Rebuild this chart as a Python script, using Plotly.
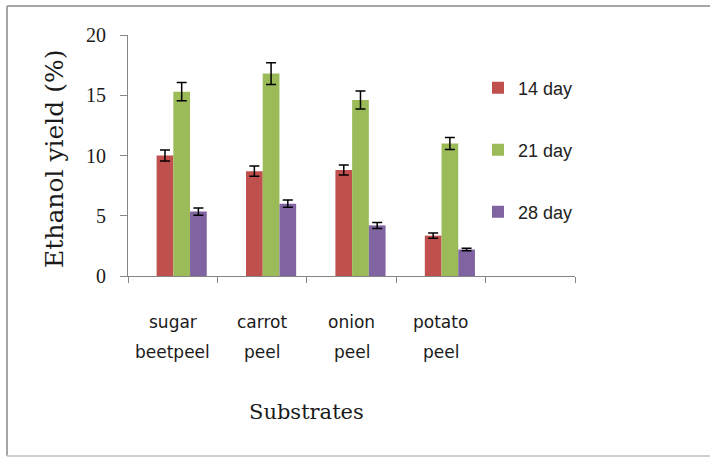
import plotly.graph_objects as go

# ---- data ----
categories_line1 = ["sugar", "carrot", "onion", "potato"]
categories_line2 = ["beetpeel", "peel", "peel", "peel"]
series_names = ["14 day", "21 day", "28 day"]
day14 = [10.0, 8.7, 8.8, 3.35]
day14_err = [0.45, 0.42, 0.42, 0.22]
day21 = [15.3, 16.8, 14.6, 11.0]
day21_err = [0.75, 0.9, 0.75, 0.5]
day28 = [5.35, 6.0, 4.2, 2.2]
day28_err = [0.3, 0.3, 0.25, 0.1]
y_ticks = [0, 5, 10, 15, 20]

colors = ["#C0504D", "#9BBB59", "#8064A2"]
values = [day14, day21, day28]
errors = [day14_err, day21_err, day28_err]
x_idx = list(range(len(categories_line1)))

W, H = 710, 457
L, R, T, B = 128, 135, 35, 181
plot_w = W - L - R
plot_h = H - T - B

bar_w = 0.187
offsets = [-0.18, 0.007, 0.194]
legend_names = ["legend", "legend2", "legend3"]

fig = go.Figure()
for i in range(3):
    fig.add_trace(go.Bar(
        x=x_idx, y=values[i], name=series_names[i],
        marker=dict(color=colors[i], line=dict(width=0)),
        width=bar_w, offset=offsets[i],
        error_y=dict(type="data", array=errors[i], visible=True,
                     color="black", thickness=1.5, width=5),
        legend=legend_names[i],
    ))

def py(pix):
    return (H - B - pix) / plot_h

def px(pix):
    return (pix - L) / plot_w

leg_font = dict(family="Liberation Sans, Arial, sans-serif", size=18, color="#222")
leg_common = dict(xanchor="left", yanchor="middle", bgcolor="rgba(0,0,0,0)",
                  borderwidth=0, font=leg_font, itemwidth=30)

layout_legends = {}
for name, ypix in zip(legend_names, [88, 150, 212]):
    layout_legends[name] = dict(x=px(478), y=py(ypix), **leg_common)

cat_font = dict(family="DejaVu Sans, sans-serif", size=17, color="#1a1a1a")
annotations = []
for i in x_idx:
    annotations.append(dict(x=i, y=py(322), xref="x", yref="paper",
                            text=categories_line1[i], showarrow=False, font=cat_font,
                            xanchor="center", yanchor="middle"))
    annotations.append(dict(x=i, y=py(352), xref="x", yref="paper",
                            text=categories_line2[i], showarrow=False, font=cat_font,
                            xanchor="center", yanchor="middle"))
annotations.append(dict(x=1.5, y=py(412), xref="x", yref="paper", text="Substrates",
                        showarrow=False, font=dict(family="DejaVu Serif, serif", size=21, color="#1a1a1a"),
                        xanchor="center", yanchor="middle"))
annotations.append(dict(x=px(54), y=py(159), xref="paper", yref="paper",
                        text="Ethanol yield (%)", textangle=-90, showarrow=False,
                        font=dict(family="DejaVu Serif, serif", size=25, color="#1a1a1a"),
                        xanchor="center", yanchor="middle"))

border = dict(color="#a6a6a6", width=2)
shapes = [
    dict(type="line", xref="paper", yref="paper", x0=px(7), x1=px(7), y0=py(456), y1=py(6), line=border),
    dict(type="line", xref="paper", yref="paper", x0=px(7), x1=px(712), y0=py(6), y1=py(6), line=border),
    dict(type="line", xref="paper", yref="paper", x0=px(7), x1=px(712), y0=py(456), y1=py(456),
         line=dict(color="#d0d0d0", width=2)),
]

fig.update_layout(
    width=W, height=H,
    margin=dict(l=L, r=R, t=T, b=B, pad=0),
    paper_bgcolor="white", plot_bgcolor="white",
    barmode="overlay",
    showlegend=True,
    annotations=annotations,
    shapes=shapes,
    **layout_legends,
)
fig.update_xaxes(
    range=[-0.5, len(x_idx) + 0.5],
    tickvals=[k - 0.5 for k in range(len(x_idx) + 2)],
    showticklabels=False, ticks="outside", ticklen=6, tickcolor="#868686",
    showline=True, linecolor="#868686", linewidth=1, showgrid=False, zeroline=False,
)
fig.update_yaxes(
    range=[0, 20], tickvals=y_ticks, ticks="outside", ticklen=7, tickcolor="#868686",
    showline=True, linecolor="#868686", linewidth=1, showgrid=False, zeroline=False,
    tickfont=dict(family="Liberation Serif, serif", size=20, color="#1a1a1a"),
    ticklabelstandoff=10,
)
fig.write_html("out.html", config={"displayModeBar": False},
               post_script="document.body.style.margin='0';")
